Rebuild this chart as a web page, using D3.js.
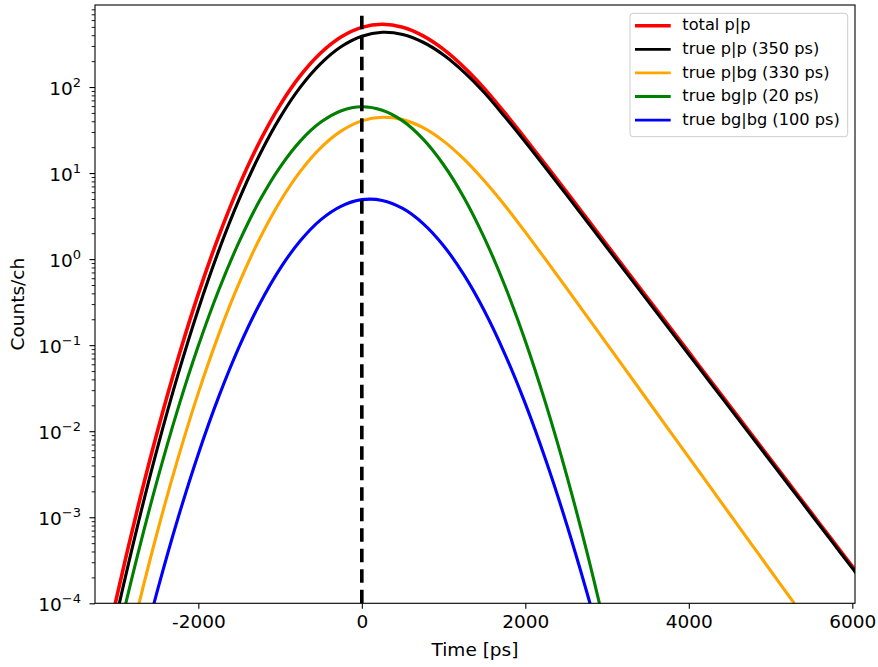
<!DOCTYPE html>
<html><head><meta charset="utf-8">
<script src="https://cdn.jsdelivr.net/npm/d3@7"></script>
<style>body{margin:0;background:#fff;}svg{display:block;font-family:"DejaVu Sans",sans-serif;}</style>
</head><body><svg id="c" width="878" height="667"></svg>
<script>
// ---- data ----
const seriesNames = ["total p|p","true p|p (350 ps)","true p|bg (330 ps)","true bg|p (20 ps)","true bg|bg (100 ps)"];
const seriesColors = ["#ff0000","#000000","#ffa500","#008000","#0000ff"];
const totalT = [-3250,-3000,-2750,-2500,-2250,-2000,-1750,-1500,-1250,-1000,-750,-500,-250,0,250,500,750,1000,1250,1500,1750,2000,2250,2500,2750,3000,3250,3500,3750,4000,4250,4500,4750,5000,5250,5500,5750,6000,6250];
const totalV = [9.2e-6,1.164e-4,1.188e-3,9.98e-3,0.0690,0.394,1.853,7.20,23.1,61.6,136.2,250.0,383.6,493.7,535.7,494.2,392.4,273.5,169.7,95.9,49.9,25.2,12.48,6.12,2.99,1.459,0.712,0.3475,0.1696,0.0828,0.0404,0.01974,9.64e-3,4.71e-3,2.30e-3,1.123e-3,5.49e-4,2.68e-4,1.31e-4];
const ppT = totalT;
const ppV = [5.73e-6,7.22e-5,7.49e-4,6.40e-3,4.51e-2,0.262,1.256,4.98,16.32,44.4,100.3,188.3,295.5,389.3,432.5,408.1,331.3,236.0,149.4,85.8,45.1,23.0,11.47,5.65,2.77,1.356,0.664,0.325,0.159,0.0778,0.0381,0.01865,9.13e-3,4.47e-3,2.19e-3,1.07e-3,5.24e-4,2.56e-4,1.26e-4];
const pbgT = [-3000,-2750,-2500,-2250,-2000,-1750,-1500,-1250,-1000,-750,-500,-250,0,250,500,750,1000,1250,1500,1750,2000,2250,2500,2750,3000,3250,3500,3750,4000,4250,4500,4750,5000,5250,5500];
const pbgV = [7.71e-6,8.00e-5,6.83e-4,4.80e-3,0.0279,0.1335,0.528,1.727,4.68,10.55,19.78,30.9,40.4,44.5,41.8,33.7,23.5,14.49,8.08,4.20,2.06,0.986,0.466,0.219,0.1027,0.0482,0.0226,0.01059,4.96e-3,2.33e-3,1.091e-3,5.11e-4,2.40e-4,1.124e-4,5.27e-5];
const bgpT = [-3250,-3000,-2750,-2500,-2250,-2000,-1750,-1500,-1250,-1000,-750,-500,-250,0,250,500,750,1000,1250,1500,1750,2000,2250,2500,2750,3000];
const bgpV = [2.91e-6,3.48e-5,3.42e-4,2.75e-3,0.0182,0.0984,0.438,1.596,4.79,11.75,23.7,39.1,53.1,59.0,53.8,40.4,24.8,12.50,5.18,1.758,0.490,0.1117,0.0209,3.22e-3,4.06e-4,4.22e-5];
const bgbgT = [-2750,-2500,-2250,-2000,-1750,-1500,-1250,-1000,-750,-500,-250,0,250,500,750,1000,1250,1500,1750,2000,2250,2500,2750,3000];
const bgbgV = [1.69e-5,1.41e-4,9.67e-4,5.45e-3,0.0252,0.0960,0.301,0.776,1.646,2.88,4.14,4.91,4.81,3.88,2.59,1.432,0.655,0.2495,0.0789,0.0209,4.62e-3,8.65e-4,1.373e-4,1.88e-5];
const xTicks = [-2000,0,2000,4000,6000];
const yTickExps = [-4,-3,-2,-1,0,1,2];
const xDomain = [-3264,6033];
const yDomain = [1e-4,898];
const zeroLineV = [1e-4,766];

// ---- layout ----
const L = 95, R = 855, T = 5, B = 603.3;
const svg = d3.select("#c");
const x = d3.scaleLinear().domain(xDomain).range([L,R]);
const y = d3.scaleLog().domain(yDomain).range([B,T]);

svg.append("defs").append("clipPath").attr("id","clip")
  .append("rect").attr("x",L).attr("y",T).attr("width",R-L).attr("height",B-T);

const allT = [totalT,ppT,pbgT,bgpT,bgbgT];
const allV = [totalV,ppV,pbgV,bgpV,bgbgV];
const widths = [3.6,3.1,3.1,3.1,3.1];
const legendWidths = [3.4,2.8,2.8,2.8,2.8];
const line = d3.line().x(d=>x(d[0])).y(d=>y(d[1])).curve(d3.curveCatmullRom.alpha(0.5));

const g = svg.append("g").attr("clip-path","url(#clip)");
allT.forEach((ts,i)=>{
  const pts = ts.map((t,j)=>[t,allV[i][j]]);
  g.append("path").attr("d",line(pts)).attr("fill","none")
   .attr("stroke",seriesColors[i]).attr("stroke-width",widths[i]).attr("stroke-linejoin","round");
});
// dashed vertical line at t=0
g.append("line").attr("x1",x(0)).attr("x2",x(0)).attr("y1",y(zeroLineV[0])).attr("y2",y(zeroLineV[1]))
 .attr("stroke","#000").attr("stroke-width",3.6).attr("stroke-dasharray","13.5,7");

// ---- axes ----
const xAxis = d3.axisBottom(x).tickValues(xTicks).tickFormat(d=>String(d)).tickSize(5.5).tickPadding(6);
const gx = svg.append("g").attr("transform",`translate(0,${B})`).call(xAxis);
gx.select(".domain").remove();
gx.selectAll("line").attr("stroke","#000").attr("stroke-width",1.1);
gx.selectAll("text").attr("font-size","18.5px").attr("fill","#000").attr("font-family","DejaVu Sans");

// y minor ticks
const minor = [];
for (let e=-4; e<=2; e++) for (let m=2; m<=9; m++) { const v=m*Math.pow(10,e); if (v<=yDomain[1]) minor.push(v); }
const yMinor = d3.axisLeft(y).tickValues(minor).tickFormat("").tickSize(3.3);
const gym = svg.append("g").attr("transform",`translate(${L},0)`).call(yMinor);
gym.select(".domain").remove();
gym.selectAll("line").attr("stroke","#000").attr("stroke-width",0.9);

const yMajorVals = yTickExps.map(e=>Math.pow(10,e));
const yMajor = d3.axisLeft(y).tickValues(yMajorVals).tickFormat("").tickSize(5.5);
const gy = svg.append("g").attr("transform",`translate(${L},0)`).call(yMajor);
gy.select(".domain").remove();
gy.selectAll("line").attr("stroke","#000").attr("stroke-width",1.1);

yTickExps.forEach(e=>{
  const ty = y(Math.pow(10,e));
  const t = svg.append("text").attr("x",81).attr("y",ty+7.5).attr("text-anchor","end")
    .attr("font-size","18.5px").attr("fill","#000");
  t.append("tspan").text("10");
  t.append("tspan").attr("dy",-7.5).attr("font-size","13px").text(e<0 ? "\u2212"+Math.abs(e) : String(e));
});

// spines
svg.append("rect").attr("x",L).attr("y",T).attr("width",R-L).attr("height",B-T)
  .attr("fill","none").attr("stroke","#000").attr("stroke-width",1.1);

// axis labels
svg.append("text").attr("x",(L+R)/2).attr("y",656).attr("text-anchor","middle")
  .attr("font-size","18.5px").attr("fill","#000").text("Time [ps]");
svg.append("text").attr("transform",`translate(24,${(T+B)/2}) rotate(-90)`).attr("text-anchor","middle")
  .attr("font-size","18.5px").attr("fill","#000").text("Counts/ch");

// legend
const lg = svg.append("g");
lg.append("rect").attr("x",630).attr("y",13.3).attr("width",217.7).attr("height",123.4).attr("rx",3)
  .attr("fill","#fff").attr("fill-opacity",0.8).attr("stroke","#cccccc").attr("stroke-width",1);
seriesNames.forEach((n,i)=>{
  const cy = 25.7 + i*23.6;
  lg.append("line").attr("x1",635).attr("x2",670.7).attr("y1",cy).attr("y2",cy)
    .attr("stroke",seriesColors[i]).attr("stroke-width",legendWidths[i]);
  lg.append("text").attr("x",682.3).attr("y",cy+4.6).attr("font-size","16.2px").attr("fill","#000").text(n);
});
</script></body></html>
